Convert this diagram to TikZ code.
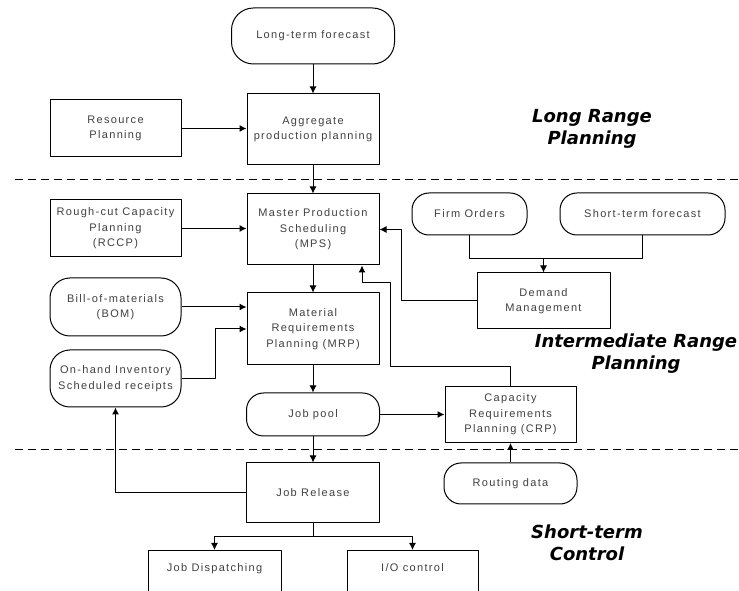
\documentclass[tikz,border=0pt]{standalone}
\usepackage{fontspec}
\setmainfont{Liberation Sans}[LetterSpace=12]
\newfontfamily\titlefont{DejaVu Sans}
\usetikzlibrary{arrows.meta}

\begin{document}
\begin{tikzpicture}[>={Latex[length=7bp,width=7bp]},line join=bevel,
  procbox/.style={draw,rectangle,line width=1bp,align=center,inner sep=2bp,
    text=black!75,font=\fontsize{11bp}{15.5bp}\selectfont},
  databox/.style={procbox,rounded corners=17bp},
  phase/.style={align=center,font=\titlefont\bfseries\itshape\fontsize{18bp}{22bp}\selectfont},
  divider/.style={line width=1bp,dash pattern=on 8bp off 5bp},
]
  \pgfsetlinewidth{1bp}
  \useasboundingbox (0bp,0bp) rectangle (739bp,591bp);
  \clip (0bp,0bp) rectangle (739bp,591bp);
%%
  % Dividers between the planning levels
  \draw [divider] (15bp,411bp) -- (739bp,411bp);
  \draw [divider] (15bp,141bp) -- (739bp,141bp);
  % Node: LongFc
  \node (LongFc) [databox,minimum width=163bp,minimum height=56bp,rounded corners=22bp] at (313bp,555bp) {Long-term forecast};
  % Node: Aggregate
  \node (Aggregate) [procbox,minimum width=132bp,minimum height=71bp] at (313bp,461.5bp) {Aggregate\\production planning};
  % Node: Resource
  \node (Resource) [procbox,minimum width=131bp,minimum height=57bp] at (115.5bp,462.5bp) {Resource\\Planning};
  % Node: MPS
  \node (MPS) [procbox,minimum width=132bp,minimum height=71bp] at (313bp,361.5bp) {Master Production\\Scheduling\\(MPS)};
  % Node: RCCP
  \node (RCCP) [procbox,minimum width=131bp,minimum height=57bp] at (115.5bp,362.5bp) {Rough-cut Capacity\\Planning\\(RCCP)};
  % Node: MRP
  \node (MRP) [procbox,minimum width=132bp,minimum height=72bp] at (313bp,262bp) {Material\\Requirements\\Planning (MRP)};
  % Node: BOM
  \node (BOM) [databox,minimum width=131bp,minimum height=58bp,rounded corners=20bp] at (115.5bp,284bp) {Bill-of-materials\\(BOM)};
  % Node: OnHand
  \node (OnHand) [databox,minimum width=131bp,minimum height=57bp,rounded corners=20bp] at (115.5bp,212.5bp) {On-hand Inventory\\Scheduled receipts};
  % Node: FirmOrders
  \node (FirmOrders) [databox,minimum width=115bp,minimum height=42bp] at (469.5bp,377bp) {Firm Orders};
  % Node: ShortFc
  \node (ShortFc) [databox,minimum width=165bp,minimum height=42bp] at (642.5bp,377bp) {Short-term forecast};
  % Node: Demand
  \node (Demand) [procbox,minimum width=133bp,minimum height=56bp] at (543.5bp,290bp) {Demand\\Management};
  % Node: JobPool
  \node (JobPool) [databox,minimum width=133bp,minimum height=43bp] at (313bp,176.5bp) {Job pool};
  % Node: CRP
  \node (CRP) [procbox,minimum width=131bp,minimum height=56bp] at (510.5bp,176.5bp) {Capacity\\Requirements\\Planning (CRP)};
  % Node: Routing
  \node (Routing) [databox,minimum width=133bp,minimum height=41bp] at (510.5bp,107.5bp) {Routing data};
  % Node: JobRelease
  \node (JobRelease) [procbox,minimum width=133bp,minimum height=60bp] at (313bp,98bp) {Job Release};
  % Node: JobDisp
  \node (JobDisp) [procbox,anchor=north,minimum width=133bp,inner ysep=13bp,text depth=40bp] at (214.5bp,41bp) {Job Dispatching};
  % Node: IOControl
  \node (IOControl) [procbox,anchor=north,minimum width=131bp,inner ysep=13bp,text depth=40bp] at (412.5bp,41bp) {I/O control};
  % Phase labels
  \node (LongRange) [phase] at (592bp,462bp) {Long Range\\Planning};
  \node (MidRange) [phase] at (636bp,237bp) {Intermediate Range\\Planning};
  \node (ShortTerm) [phase] at (587bp,48bp) {Short-term\\Control};
%%
  % Edge: LongFc -> Aggregate
  \draw [->] (LongFc.south) -- (Aggregate.north);
  % Edge: Resource -> Aggregate
  \draw [->] (Resource.east) -- (Resource.east -| Aggregate.west);
  % Edge: Aggregate -> MPS
  \draw [->] (Aggregate.south) -- (MPS.north);
  % Edge: RCCP -> MPS
  \draw [->] (RCCP.east) -- (RCCP.east -| MPS.west);
  % Edge: MPS -> MRP
  \draw [->] (MPS.south) -- (MRP.north);
  % Edge: BOM -> MRP
  \draw [->] (BOM.east) -- (BOM.east -| MRP.west);
  % Edge: OnHand -> MRP
  \draw [->] (OnHand.east) -- (215bp,212.5bp) |- (MRP.west);
  % Edge: FirmOrders, ShortFc -> Demand
  \coordinate (merge) at ([yshift=14bp]Demand.north);
  \draw (FirmOrders.south) |- (merge) -| (ShortFc.south);
  \draw [->] (merge) -- (Demand.north);
  % Edge: Demand -> MPS
  \draw [->] (Demand.west) -| ([xshift=22bp]MPS.east) -- (MPS.east);
  % Edge: MRP -> JobPool
  \draw [->] (MRP.south) -- (JobPool.north);
  % Edge: JobPool -> CRP
  \draw [->] (JobPool.east) -- (CRP.west);
  % Edge: CRP -> MPS
  \draw [->] (CRP.north) -- ++(0,19bp) -| (390bp,308bp) -| ([xshift=49bp]MPS.south);
  % Edge: Routing -> CRP
  \draw [->] (Routing.north) -- (CRP.south);
  % Edge: JobPool -> JobRelease
  \draw [->] (JobPool.south) -- (JobRelease.north);
  % Edge: JobRelease -> OnHand
  \draw [->] (JobRelease.west) -| (OnHand.south);
  % Edge: JobRelease -> JobDisp, IOControl
  \coordinate (split) at ([yshift=-13bp]JobRelease.south);
  \draw (JobRelease.south) -- (split);
  \draw [->] (split) -| (JobDisp.north);
  \draw [->] (split) -| (IOControl.north);
%
\end{tikzpicture}
\end{document}
